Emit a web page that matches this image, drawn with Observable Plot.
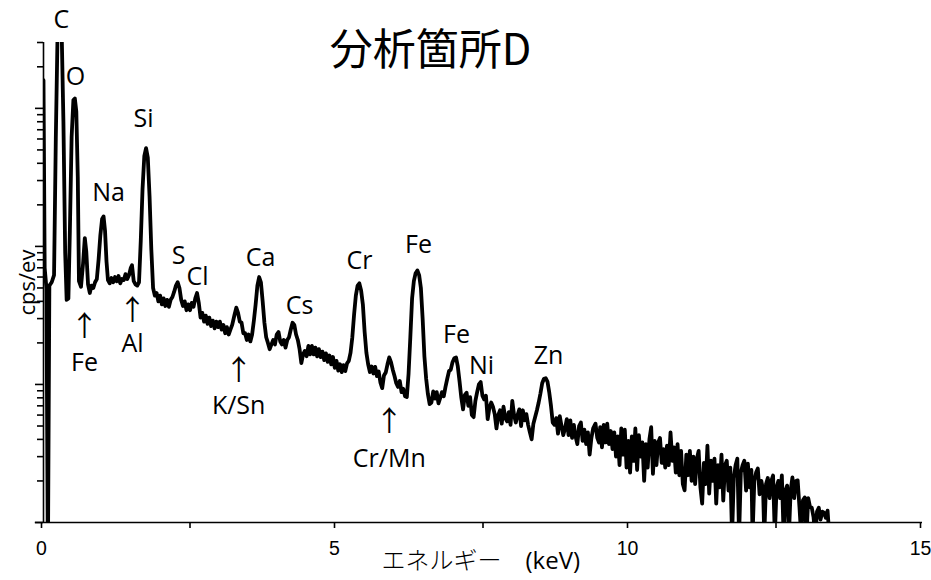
<!DOCTYPE html>
<html><head><meta charset="utf-8">
<script src="https://cdn.jsdelivr.net/npm/d3@7"></script>
<script src="https://cdn.jsdelivr.net/npm/@observablehq/plot@0.6"></script>
<style>body{margin:0;background:#fff}</style>
</head><body><div id="chart"></div>
<script>
const title = "分析箇所D";
const xLabelJa = "エネルギー";
const xLabelUnit = "(keV)";
const yLabel = "cps/ev";

// spectrum points: [energy (keV), intensity (cps/eV, arbitrary units, log scale)]
const spectrumPoints = [
[0.000,1600],[0.020,70],[0.050,50],[0.075,0.5],[0.100,52],[0.140,55],[0.180,62],[0.210,600],[0.240,3500],[0.270,4500],
[0.310,3600],[0.340,800],[0.370,90],[0.395,41],[0.425,42],[0.450,130],[0.480,620],[0.510,1150],[0.535,1180],[0.560,950],
[0.585,320],[0.605,56],[0.640,51],[0.675,75],[0.705,115],[0.730,92],[0.760,53],[0.790,46],[0.820,52],[0.850,50],
[0.880,55],[0.910,58],[0.940,80],[0.970,120],[1.000,158],[1.025,165],[1.050,130],[1.075,78],[1.100,57],[1.130,54],
[1.160,59],[1.190,55],[1.220,60],[1.250,56],[1.280,61],[1.310,54],[1.340,58],[1.370,57],[1.400,63],[1.430,58],
[1.460,62],[1.490,70],[1.510,73],[1.540,56],[1.570,53],[1.600,52],[1.630,55],[1.660,110],[1.690,260],[1.720,450],
[1.750,515],[1.780,440],[1.810,230],[1.840,95],[1.870,50],[1.900,44],[1.930,46],[1.960,40],[1.990,44],[2.020,38],
[2.050,42],[2.080,37],[2.110,41],[2.140,36.5],[2.170,41],[2.200,43],[2.230,47],[2.260,52],[2.290,55],[2.320,50],
[2.350,41],[2.380,37],[2.410,40],[2.440,34.5],[2.470,38],[2.500,34.5],[2.530,39],[2.560,36.5],[2.590,42],[2.620,46],
[2.650,39],[2.680,30.5],[2.710,33],[2.740,28.5],[2.770,31.5],[2.800,27.5],[2.830,30.5],[2.860,26.5],[2.890,29],[2.920,25.5],
[2.950,28.5],[2.980,26],[3.010,28.5],[3.040,25],[3.070,27],[3.100,23.5],[3.130,26],[3.160,23],[3.190,25],[3.220,27],
[3.260,32],[3.290,36],[3.320,33],[3.350,28.5],[3.380,28],[3.410,23.5],[3.440,23.5],[3.470,21],[3.500,23],[3.530,20.5],
[3.560,23],[3.590,29],[3.620,38],[3.650,52],[3.680,60],[3.710,55],[3.740,40],[3.770,28],[3.800,22],[3.830,20],
[3.860,18],[3.890,19.5],[3.920,21],[3.950,19.5],[3.980,23],[4.010,24],[4.040,20.5],[4.070,19.5],[4.100,21],[4.130,18.5],
[4.160,21],[4.190,22],[4.220,25],[4.250,28],[4.280,27],[4.310,23],[4.340,21],[4.370,18],[4.400,14.3],[4.430,16.5],
[4.460,17.5],[4.490,16],[4.520,19],[4.550,16.5],[4.580,19],[4.610,16.5],[4.640,18.5],[4.670,16],[4.700,18],[4.730,15.8],
[4.760,17.3],[4.790,15],[4.820,16.8],[4.850,14.6],[4.880,16.2],[4.910,14],[4.940,15.8],[4.970,13.2],[5.000,14.8],[5.030,12.6],
[5.060,14],[5.090,12.3],[5.120,13.8],[5.150,12.5],[5.180,14.2],[5.210,14.8],[5.240,17],[5.270,22],[5.300,32],[5.330,44],
[5.360,52],[5.390,54],[5.420,48],[5.450,38],[5.480,24],[5.510,17],[5.540,14],[5.570,12.3],[5.600,13.5],[5.630,12],
[5.660,13.4],[5.690,11.5],[5.720,12.4],[5.750,10.3],[5.780,9.4],[5.810,11.6],[5.840,12.2],[5.870,14],[5.900,15.7],[5.930,14.5],
[5.960,12.8],[5.990,11.5],[6.020,10.2],[6.050,9.6],[6.080,10.6],[6.110,8.8],[6.140,9.3],[6.170,8.2],[6.200,8.1],[6.230,12],
[6.260,22],[6.290,42],[6.320,56],[6.350,64],[6.380,67],[6.410,62],[6.440,50],[6.470,30],[6.500,16],[6.530,11],
[6.560,8.5],[6.590,7.2],[6.620,7.4],[6.650,8.9],[6.680,7.9],[6.710,8.8],[6.740,7.3],[6.770,8.0],[6.800,8.8],[6.830,8.2],
[6.860,9.6],[6.890,11],[6.920,12.5],[6.950,12.8],[6.980,14.5],[7.010,15.5],[7.040,15.7],[7.070,13.5],[7.100,10.5],[7.130,8.0],
[7.160,6.6],[7.190,8.4],[7.220,8.7],[7.250,7.0],[7.280,8.1],[7.310,6.0],[7.340,5.8],[7.370,7.6],[7.400,8.8],[7.430,10.0],
[7.460,10.4],[7.490,8.3],[7.520,7.8],[7.550,8.3],[7.580,5.6],[7.610,6.8],[7.640,7.4],[7.670,6.9],[7.700,6.1],[7.730,4.8],
[7.760,6.0],[7.790,6.5],[7.820,5.2],[7.850,6.9],[7.880,5.7],[7.910,5.4],[7.940,6.3],[7.970,5.1],[8.000,7.6],[8.030,6.0],
[8.060,5.3],[8.090,6.0],[8.120,6.6],[8.150,5.0],[8.180,6.5],[8.210,5.5],[8.240,6.1],[8.270,5.1],[8.300,4.5],[8.330,4.0],
[8.360,5.2],[8.390,5.8],[8.420,6.5],[8.450,7.4],[8.480,8.6],[8.510,10.2],[8.540,11.0],[8.570,11.1],[8.600,10.5],[8.630,8.8],
[8.660,7.0],[8.690,5.3],[8.720,5.1],[8.750,5.7],[8.780,4.4],[8.810,5.9],[8.840,5.0],[8.870,4.3],[8.900,4.8],[8.930,5.6],
[8.960,4.3],[8.990,5.5],[9.020,4.1],[9.050,5.1],[9.080,4.2],[9.110,3.7],[9.140,5.0],[9.170,5.3],[9.200,3.9],[9.230,4.7],
[9.260,3.7],[9.290,4.5],[9.320,3.1],[9.350,4.1],[9.380,4.8],[9.420,5.2],[9.450,4.1],[9.480,3.8],
[9.50,4.9],[9.53,3.5],[9.56,5.1],[9.59,3.8],[9.62,5.2],[9.65,3.7],[9.68,4.6],[9.71,3.4],[9.74,4.5],[9.77,3.0],
[9.80,4.2],[9.83,2.6],[9.86,4.8],[9.89,3.1],[9.92,4.7],[9.95,2.5],[9.98,3.9],[10.01,2.3],[10.04,4.2],[10.07,2.8],
[10.10,4.8],[10.13,2.4],[10.16,4.3],[10.19,3.0],[10.22,3.8],[10.25,2.0],[10.28,3.7],[10.31,2.5],[10.34,4.0],[10.37,4.9],
[10.40,2.25],[10.43,3.9],[10.46,2.6],[10.49,3.8],[10.52,4.1],[10.55,2.7],[10.58,3.4],[10.61,2.5],[10.64,3.6],[10.67,2.6],
[10.70,4.5],[10.73,2.8],[10.76,3.5],[10.79,2.3],[10.82,3.7],[10.85,2.2],[10.88,3.3],[10.91,1.9],[10.94,1.71],[10.97,3.1],
[11.00,2.2],[11.03,3.3],[11.06,2.0],[11.09,3.0],[11.12,1.9],[11.15,2.9],[11.18,3.3],[11.21,1.8],[11.24,1.37],[11.27,2.7],
[11.30,1.9],[11.33,3.6],[11.36,1.62],[11.39,2.8],[11.42,2.0],[11.45,2.9],[11.48,1.37],[11.51,2.6],[11.54,1.8],[11.57,3.1],
[11.60,1.44],[11.63,2.6],[11.66,2.8],[11.69,1.7],[11.72,2.5],[11.75,0.8],[11.78,2.1],[11.81,2.6],[11.84,2.9],[11.87,0.8],
[11.90,2.3],[11.93,2.6],[11.96,2.8],[11.99,1.7],[12.02,2.67],[12.05,1.8],[12.08,2.4],[12.10,0.8],[12.13,2.0],[12.16,2.3],
[12.19,2.46],[12.22,1.6],[12.25,2.0],[12.28,1.7],[12.30,0.8],[12.33,1.9],[12.36,2.1],[12.39,1.5],[12.42,2.0],[12.45,2.19],
[12.48,0.8],[12.51,1.8],[12.54,2.0],[12.57,1.5],[12.60,2.19],[12.63,0.8],[12.66,1.7],[12.69,1.85],[12.72,0.8],[12.75,1.7],
[12.78,2.12],[12.81,1.5],[12.84,2.0],[12.87,2.02],[12.90,1.3],[12.93,0.8],[12.96,1.45],[12.99,1.52],[13.02,0.8],[13.05,1.5],
[13.08,1.3],[13.11,1.28],[13.14,1.1],[13.17,0.8],[13.20,1.2],[13.23,1.28],[13.26,1.05],[13.29,1.2],[13.32,1.18],[13.35,1.08],
[13.38,1.22],[13.41,0.8]
];

const majorX = [0, 5, 10, 15];
const minorX = [2.5, 7.5, 12.5];
const majorY = [1, 10, 100, 1000];
const minorY = [2,3,4,5,6,7,8,9,20,30,40,50,60,70,80,90,200,300,400,500,600,700,800,900,2000,3000];

const peakNames = ["C","O","Na","Si","S","Cl","Ca","Cs","Cr","Fe","Fe","Ni","Zn"];
const peakEnergy = [0.307,0.546,1.109,1.706,2.304,2.628,3.703,4.369,5.392,6.399,7.048,7.474,8.618];
const peakLabelCps = [4400,1700,242,832,85,60,83,37,78,103,23,13.5,16.2];

const arrowNames = ["Fe","Al","K/Sn","Cr/Mn"];
const arrowEnergy = [0.70,1.52,3.33,5.90];
const arrowTipCps = [26,34,12.6,5.3];
const arrowLabelCps = [14.4,19.5,7.0,2.9];

const spectrum = spectrumPoints.map(([e, v]) => ({e, v}));
const peaks = peakNames.map((n, i) => ({n, e: peakEnergy[i], v: peakLabelCps[i]}));
const arrows = arrowNames.map((n, i) => ({n, e: arrowEnergy[i], tip: arrowTipCps[i], lab: arrowLabelCps[i]}));

const labelFont = "'Open Sans', sans-serif";
const chart = Plot.plot({
  width: 931, height: 580,
  marginLeft: 43, marginRight: 9, marginTop: 42, marginBottom: 58,
  style: {fontFamily: labelFont, background: "#fff", color: "#000", overflow: "visible"},
  x: {domain: [0, 15]},
  y: {type: "log", domain: [1, 3000]},
  marks: [
    Plot.line(spectrum, {x: "e", y: "v", stroke: "#000", strokeWidth: 3.8, strokeLinejoin: "round", clip: true}),
    Plot.ruleX([0], {y1: 1, y2: 3000, stroke: "#000", strokeWidth: 1.6}),
    Plot.ruleY([1], {x1: -0.14, x2: 15, stroke: "#000", strokeWidth: 1.6}),
    Plot.axisX({ticks: majorX, tickSize: 6, tickPadding: 13, fontSize: 19.5, fontFamily: "'Liberation Sans', sans-serif", label: null, tickFormat: d => String(d), strokeWidth: 1.6, dx: -2}),
    Plot.axisX({ticks: minorX, tickSize: 6, tickFormat: () => "", label: null, strokeWidth: 1.6}),
    Plot.axisY({ticks: majorY, tickSize: 8, tickFormat: () => "", label: null, strokeWidth: 1.6}),
    Plot.axisY({ticks: minorY, tickSize: 6, tickFormat: () => "", label: null, strokeWidth: 1.6}),
    Plot.text(peaks, {x: "e", y: "v", text: "n", fontSize: 25, fill: "#000"}),
    Plot.text(arrows, {x: "e", y: "tip", text: () => "↑", fontSize: 28, fontFamily: "'Noto Sans CJK JP'", fill: "#000"}),
    Plot.text(arrows, {x: "e", y: "lab", text: "n", fontSize: 25, fill: "#000"}),
    Plot.text([title], {frameAnchor: "top-left", textAnchor: "middle", dx: 387, dy: -8, fontSize: 43, fontFamily: "'Noto Sans CJK JP'", fill: "#000"}),
    Plot.text([yLabel], {frameAnchor: "left", textAnchor: "middle", dx: -16, rotate: -90, fontSize: 22, fill: "#000"}),
    Plot.text([xLabelJa], {frameAnchor: "bottom-left", textAnchor: "start", dx: 338, dy: 46, fontSize: 24, fontWeight: 300, fontFamily: "'Noto Sans CJK JP'", fill: "#000"}),
    Plot.text([xLabelUnit], {frameAnchor: "bottom-left", textAnchor: "start", dx: 482, dy: 46, fontSize: 24, fill: "#000"})
  ]
});
document.getElementById("chart").append(chart);
</script>
</body></html>
